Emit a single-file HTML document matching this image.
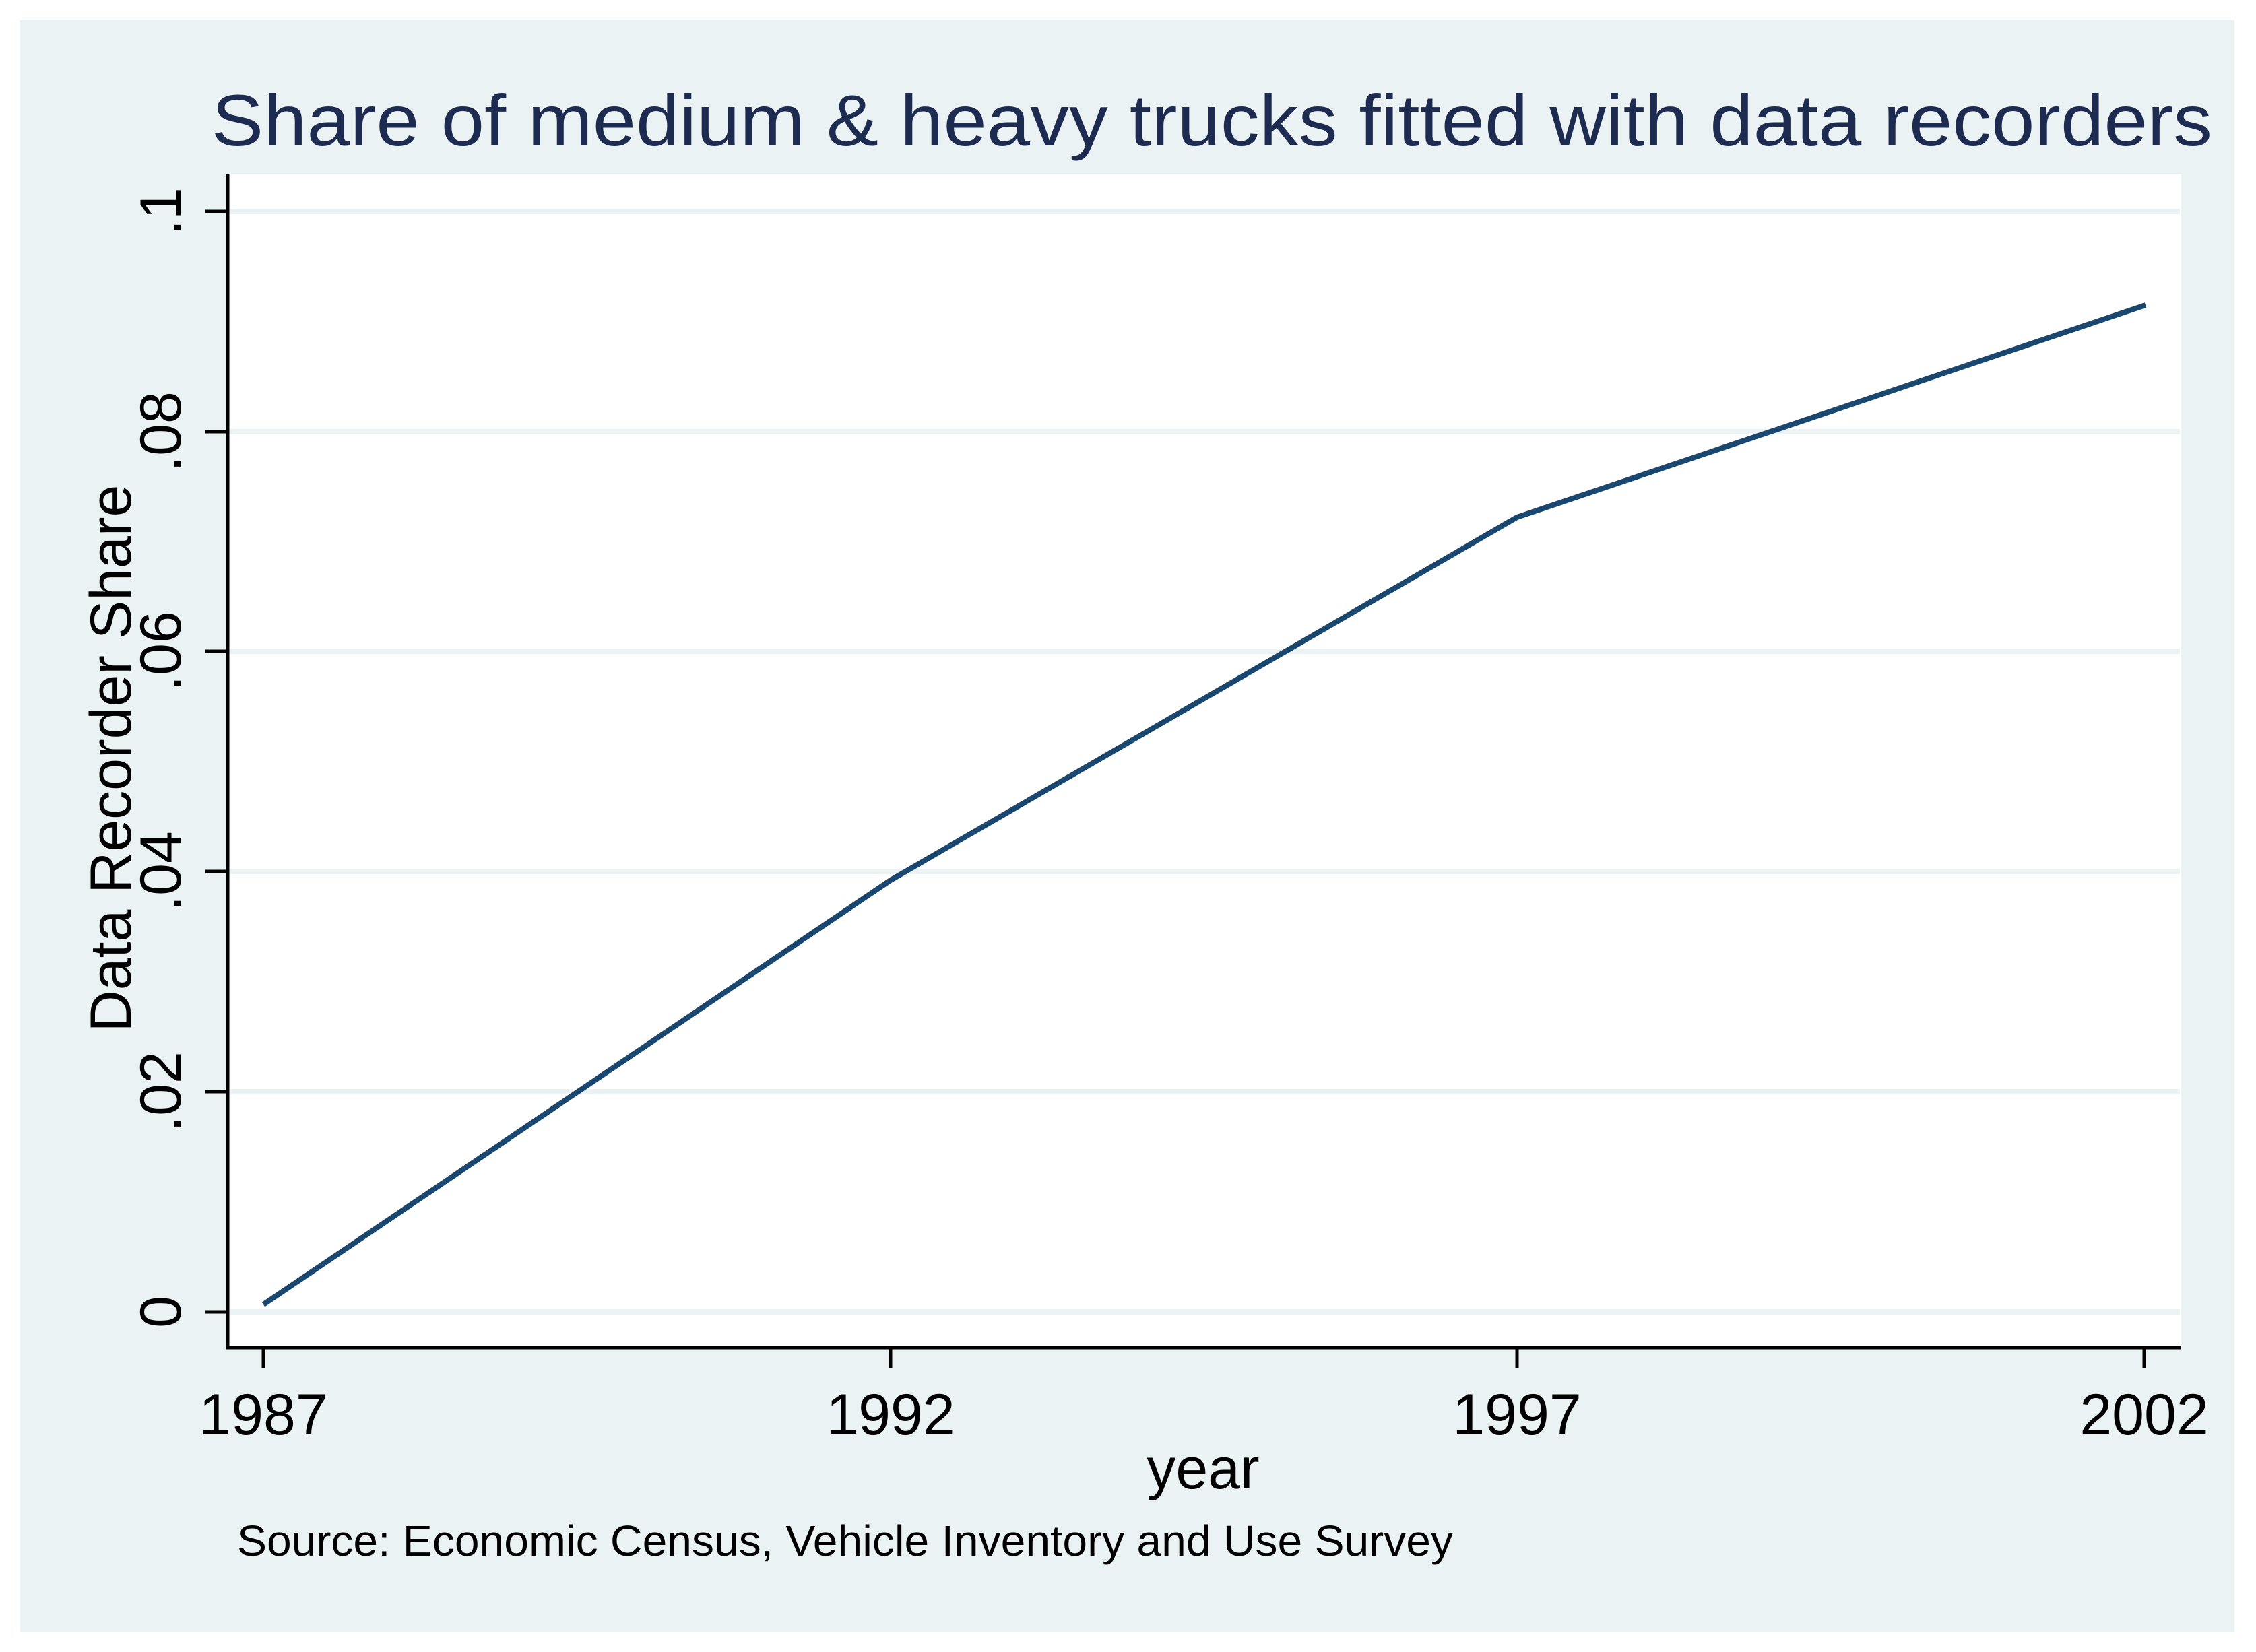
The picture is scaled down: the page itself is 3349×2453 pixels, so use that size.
<!DOCTYPE html>
<html><head><style>body{margin:0;background:#fff}svg{display:block}</style></head><body>
<svg width="3349" height="2453" xmlns="http://www.w3.org/2000/svg" font-family="Liberation Sans, Arial, sans-serif">
<rect x="0" y="0" width="3349" height="2453" fill="#fff"/>
<rect x="29" y="30" width="3288" height="2394" fill="#eaf2f3"/>
<text x="314" y="216" font-size="108" fill="#1e2b50" textLength="2970" lengthAdjust="spacingAndGlyphs">Share of medium &amp; heavy trucks fitted with data recorders</text>
<rect x="338" y="259" width="2900" height="1742" fill="#fff"/>
<g stroke="#eaf2f3" stroke-width="8">
<line x1="340" x2="3236" y1="314" y2="314"/>
<line x1="340" x2="3236" y1="641" y2="641"/>
<line x1="340" x2="3236" y1="967" y2="967"/>
<line x1="340" x2="3236" y1="1294" y2="1294"/>
<line x1="340" x2="3236" y1="1621" y2="1621"/>
<line x1="340" x2="3236" y1="1948" y2="1948"/>
</g>
<g stroke="#000" stroke-width="5" fill="none">
<polyline points="338,259 338,2001 3238,2001"/>
<line x1="305" x2="338" y1="314" y2="314"/>
<line x1="305" x2="338" y1="641" y2="641"/>
<line x1="305" x2="338" y1="967" y2="967"/>
<line x1="305" x2="338" y1="1294" y2="1294"/>
<line x1="305" x2="338" y1="1621" y2="1621"/>
<line x1="305" x2="338" y1="1948" y2="1948"/>
<line x1="391" x2="391" y1="2001" y2="2032"/>
<line x1="1322" x2="1322" y1="2001" y2="2032"/>
<line x1="2252" x2="2252" y1="2001" y2="2032"/>
<line x1="3183" x2="3183" y1="2001" y2="2032"/>
</g>
<polyline points="391,1937 1322,1307 2252,768 3185,453" fill="none" stroke="#1a476f" stroke-width="8" stroke-linejoin="round"/>
<g font-size="86" fill="#000" text-anchor="middle">
<text x="391" y="2130">1987</text>
<text x="1322" y="2130">1992</text>
<text x="2252" y="2130">1997</text>
<text x="3183" y="2130">2002</text>
<text x="1786" y="2210">year</text>
</g>
<g font-size="86" fill="#000" text-anchor="middle">
<text transform="translate(268,314) rotate(-90)">.1</text>
<text transform="translate(268,641) rotate(-90)">.08</text>
<text transform="translate(268,967) rotate(-90)">.06</text>
<text transform="translate(268,1294) rotate(-90)">.04</text>
<text transform="translate(268,1621) rotate(-90)">.02</text>
<text transform="translate(268,1948) rotate(-90)">0</text>
<text transform="translate(194,1126) rotate(-90)">Data Recorder Share</text>
</g>
<text x="352" y="2310" font-size="64" fill="#000" textLength="1805" lengthAdjust="spacingAndGlyphs">Source: Economic Census, Vehicle Inventory and Use Survey</text>
</svg>
</body></html>
